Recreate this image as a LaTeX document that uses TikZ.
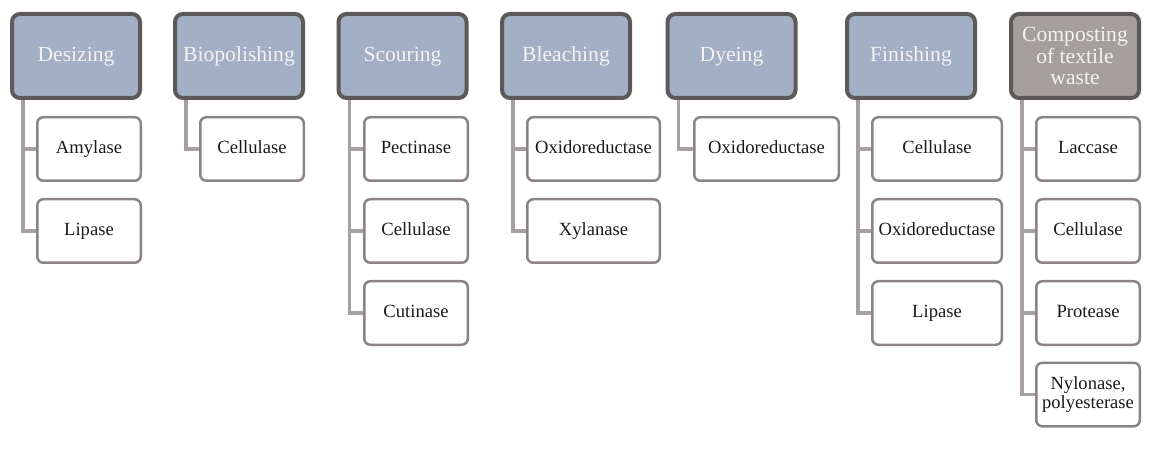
\documentclass[tikz,border=0pt]{standalone}
\usepackage{fontspec}
\setmainfont{Liberation Serif}
\usetikzlibrary{backgrounds}
\definecolor{hfill}{HTML}{A3AFC5}
\definecolor{hdraw}{HTML}{5D5958}
\definecolor{cfill}{HTML}{A49E9C}
\definecolor{kdraw}{HTML}{8A8584}
\definecolor{conn}{HTML}{A6A1A0}
\definecolor{htext}{HTML}{F3F3F3}
\definecolor{ktext}{HTML}{1A1A1A}
\tikzset{
  head/.style={draw=hdraw, fill=hfill, line width=4pt, rounded corners=8pt,
    minimum width=128pt, minimum height=84pt, inner sep=2pt, text=htext,
    text height=14.7pt, text depth=3pt,
    align=center, font=\fontsize{21.6}{21.6}\selectfont},
  kid/.style={draw=kdraw, fill=white, line width=2.5pt, rounded corners=6pt,
    minimum height=63.5pt, inner sep=1pt, text=ktext,
    text height=12.6pt, text depth=3pt,
    align=center, font=\fontsize{18.6}{18.6}\selectfont},
  multi/.style={text height={}, text depth={}},
  link/.style={draw=conn, line width=3.2pt}
}
\begin{document}
\begin{tikzpicture}[x=1pt,y=-1pt]
\useasboundingbox (0,0) rectangle (1164,454);
% headers
\node[head] (hD) at (76,56) {Desizing};
\node[head] (hB) at (239,56) {Biopolishing};
\node[head] (hS) at (402.5,56) {Scouring};
\node[head] (hBl) at (566,56) {Bleaching};
\node[head] (hDy) at (731.5,56) {Dyeing};
\node[head] (hF) at (911,56) {Finishing};
\node[head, multi, fill=cfill] (hC) at (1075,56) {Composting\\of textile\\waste};
% children
\node[kid, minimum width=103.5pt] (d1) at (89,149) {Amylase};
\node[kid, minimum width=103.5pt] (d2) at (89,231) {Lipase};
\node[kid, minimum width=103.5pt] (b1) at (252,149) {Cellulase};
\node[kid, minimum width=103.5pt] (s1) at (416,149) {Pectinase};
\node[kid, minimum width=103.5pt] (s2) at (416,231) {Cellulase};
\node[kid, minimum width=103.5pt] (s3) at (416,313) {Cutinase};
\node[kid, minimum width=132.5pt] (l1) at (593.5,149) {Oxidoreductase};
\node[kid, minimum width=132.5pt] (l2) at (593.5,231) {Xylanase};
\node[kid, minimum width=144.5pt] (y1) at (766.5,149) {Oxidoreductase};
\node[kid, minimum width=129.5pt] (f1) at (937,149) {Cellulase};
\node[kid, minimum width=129.5pt] (f2) at (937,231) {Oxidoreductase};
\node[kid, minimum width=129.5pt] (f3) at (937,313) {Lipase};
\node[kid, minimum width=103.5pt] (c1) at (1088,149) {Laccase};
\node[kid, minimum width=103.5pt] (c2) at (1088,231) {Cellulase};
\node[kid, minimum width=103.5pt] (c3) at (1088,313) {Protease};
\node[kid, multi, minimum width=103.5pt] (c4) at (1088,394.5) {Nylonase,\\polyesterase};
% connectors
\begin{pgfonlayer}{background}
\foreach \h/\k in {hD/d1,hD/d2,hB/b1,hS/s1,hS/s2,hS/s3,hBl/l1,hBl/l2,hDy/y1,hF/f1,hF/f2,hF/f3,hC/c1,hC/c2,hC/c3,hC/c4}
  \draw[link] ([xshift=13pt]\h.south west) |- (\k.west);
\end{pgfonlayer}
\end{tikzpicture}
\end{document}
